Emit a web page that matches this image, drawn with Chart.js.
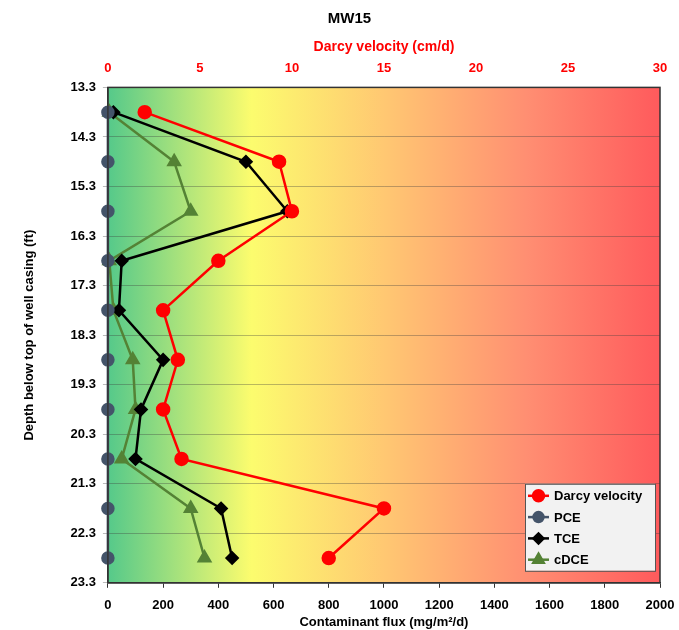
<!DOCTYPE html>
<html>
<head>
<meta charset="utf-8">
<script src="https://cdn.jsdelivr.net/npm/chart.js@4"></script>
<style>
  body { margin: 0; background: #fff; }
  canvas { display: block; }
</style>
</head>
<body>
<canvas id="mw15Chart" width="679" height="630"></canvas>
<script>
// depth of each sample (ft below top of well casing)
const depths = [13.8, 14.8, 15.8, 16.8, 17.8, 18.8, 19.8, 20.8, 21.8, 22.8];
// Darcy velocity, cm/d (top axis)
const darcyVelocity = [2, 9.3, 10, 6, 3, 3.8, 3, 4, 15, 12];
// contaminant flux, mg/m2/d (bottom axis)
const pceFlux = [0, 0, 0, 0, 0, 0, 0, 0, 0, 0];
const tceFlux = [20, 500, 650, 50, 40, 200, 120, 100, 410, 450];
const cdceFlux = [5, 240, 300, 5, 20, 90, 100, 50, 300, 350];

const depthTicks = { min: 13.3, max: 23.3, step: 1 };
const fluxTicks = { min: 0, max: 2000, step: 200 };
const velocityTicks = { min: 0, max: 30, step: 5 };

const FONT = "'Liberation Sans', Arial, sans-serif";

function toPoints(values) {
    return values.map((v, i) => ({ x: v, y: depths[i] }));
}

// ========== background gradient + plot frame ==========
const plotBackground = {
    id: 'plotBackground',
    beforeDraw(chart) {
        const { ctx, chartArea: a } = chart;
        const g = ctx.createLinearGradient(a.left, 0, a.right, 0);
        g.addColorStop(0, '#55c98a');
        g.addColorStop(0.26, '#fcfc6e');
        g.addColorStop(0.5, '#ffc872');
        g.addColorStop(0.76, '#ff8e72');
        g.addColorStop(1, '#ff5a5c');
        ctx.save();
        ctx.fillStyle = g;
        ctx.fillRect(a.left, a.top, a.right - a.left, a.bottom - a.top);
        ctx.restore();
    },
    afterDatasetsDraw(chart) {
        const { ctx, chartArea: a } = chart;
        ctx.save();
        ctx.strokeStyle = '#333';
        ctx.lineWidth = 1.5;
        ctx.strokeRect(a.left, a.top, a.right - a.left, a.bottom - a.top);
        ctx.restore();
    }
};

// ========== legend box inside the plot ==========
const boxLegend = {
    id: 'boxLegend',
    afterDraw(chart) {
        const { ctx, chartArea: a } = chart;
        const w = 130, h = 87;
        const x = a.right - w - 5, y = a.bottom - h - 12;
        ctx.save();
        ctx.fillStyle = '#f2f2f2';
        ctx.strokeStyle = '#555';
        ctx.lineWidth = 1;
        ctx.fillRect(x, y, w, h);
        ctx.strokeRect(x + 0.5, y + 0.5, w, h);
        ctx.font = 'bold 13px ' + FONT;
        ctx.textBaseline = 'middle';
        chart.data.datasets.forEach((ds, i) => {
            const cy = y + 12 + i * 21.3;
            ctx.strokeStyle = ds.borderColor;
            ctx.lineWidth = ds.borderWidth;
            ctx.beginPath();
            ctx.moveTo(x + 3, cy);
            ctx.lineTo(x + 24, cy);
            ctx.stroke();
            ctx.fillStyle = ds.pointBackgroundColor;
            Chart.helpers.drawPoint(ctx, {
                pointStyle: ds.pointStyle,
                radius: ds.pointRadius - 0.5,
                rotation: 0,
                borderWidth: 1
            }, x + 13.5, cy);
            ctx.fillStyle = '#000';
            ctx.fillText(ds.label, x + 29, cy + 1);
        });
        ctx.restore();
    }
};

const ctx = document.getElementById('mw15Chart').getContext('2d');
new Chart(ctx, {
    type: 'scatter',
    data: {
        datasets: [{
            label: 'Darcy velocity',
            data: toPoints(darcyVelocity),
            xAxisID: 'x2',
            showLine: true,
            clip: false,
            borderColor: '#ff0000',
            backgroundColor: '#ff0000',
            pointBackgroundColor: '#ff0000',
            pointBorderColor: '#ff0000',
            borderWidth: 2.5,
            pointStyle: 'circle',
            pointRadius: 6
        }, {
            label: 'PCE',
            data: toPoints(pceFlux),
            xAxisID: 'x',
            showLine: true,
            clip: false,
            borderColor: '#44546a',
            backgroundColor: '#44546a',
            pointBackgroundColor: '#44546a',
            pointBorderColor: '#44546a',
            borderWidth: 2.5,
            pointStyle: 'circle',
            pointRadius: 5.5
        }, {
            label: 'TCE',
            data: toPoints(tceFlux),
            xAxisID: 'x',
            showLine: true,
            clip: false,
            borderColor: '#000000',
            backgroundColor: '#000000',
            pointBackgroundColor: '#000000',
            pointBorderColor: '#000000',
            borderWidth: 2.5,
            pointStyle: 'rectRot',
            pointRadius: 5.5
        }, {
            label: 'cDCE',
            data: toPoints(cdceFlux),
            xAxisID: 'x',
            showLine: true,
            clip: false,
            borderColor: '#548235',
            backgroundColor: '#548235',
            pointBackgroundColor: '#548235',
            pointBorderColor: '#548235',
            borderWidth: 2.5,
            pointStyle: 'triangle',
            pointRadius: 6.5
        }]
    },
    options: {
        responsive: false,
        animation: false,
        layout: { padding: { left: 22, right: 2, top: 4, bottom: 0 } },
        plugins: {
            legend: { display: false },
            tooltip: { enabled: false },
            title: {
                display: true,
                text: 'MW15',
                color: '#000',
                font: { family: FONT, size: 15, weight: 'bold' },
                padding: { top: 6, bottom: 11 }
            }
        },
        scales: {
            x: {
                type: 'linear',
                position: 'bottom',
                min: fluxTicks.min,
                max: fluxTicks.max,
                afterFit: scale => { scale.paddingRight = 19; },
                ticks: {
                    stepSize: fluxTicks.step,
                    color: '#000',
                    font: { family: FONT, size: 13, weight: 'bold' },
                    maxRotation: 0,
                    padding: 10,
                    callback: v => String(v)
                },
                grid: { drawOnChartArea: false, color: '#333', tickLength: 5 },
                border: { color: '#333', width: 1.5 },
                title: {
                    display: true,
                    text: 'Contaminant flux (mg/m²/d)',
                    color: '#000',
                    font: { family: FONT, size: 13, weight: 'bold' },
                    padding: { top: -9, bottom: 0 }
                }
            },
            x2: {
                type: 'linear',
                position: 'top',
                min: velocityTicks.min,
                max: velocityTicks.max,
                afterFit: scale => { scale.paddingRight = 10; },
                ticks: {
                    stepSize: velocityTicks.step,
                    color: '#ff0000',
                    font: { family: FONT, size: 13, weight: 'bold' },
                    maxRotation: 0,
                    padding: 3,
                    callback: v => String(v)
                },
                grid: { display: false },
                border: { display: false },
                title: {
                    display: true,
                    text: 'Darcy velocity (cm/d)',
                    color: '#ff0000',
                    font: { family: FONT, size: 14, weight: 'bold' },
                    padding: { top: 0, bottom: 2 }
                }
            },
            y: {
                type: 'linear',
                reverse: true,
                min: depthTicks.min,
                max: depthTicks.max,
                ticks: {
                    stepSize: depthTicks.step,
                    color: '#000',
                    font: { family: FONT, size: 13, weight: 'bold' },
                    padding: 7,
                    callback: v => v.toFixed(1)
                },
                grid: { color: 'rgba(60,60,60,0.35)', lineWidth: 1, tickLength: 5 },
                border: { color: '#333', width: 1.5 },
                title: {
                    display: true,
                    text: 'Depth below top of well casing (ft)',
                    color: '#000',
                    font: { family: FONT, size: 13, weight: 'bold' },
                    padding: { top: 0, bottom: 26 }
                }
            }
        }
    },
    plugins: [plotBackground, boxLegend]
});
</script>
</body>
</html>
